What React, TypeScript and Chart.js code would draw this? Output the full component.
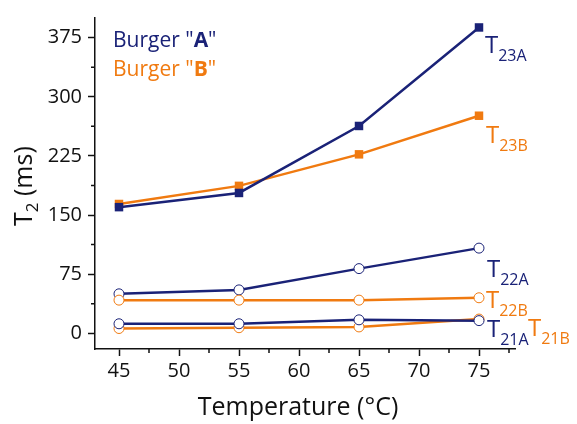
import { useEffect, useRef } from "react"
import { Chart, registerables } from "chart.js"

Chart.register(...registerables)

// temperatures (°C) on the x axis
const temperatures = [45, 55, 65, 75]

// T2 relaxation times (ms), burger A and B
const t23A = [160, 178, 263, 388]
const t23B = [164, 187, 227, 276]
const t22A = [50, 55, 82, 108]
const t22B = [42, 42, 42, 45]
const t21A = [12, 12, 17, 16]
const t21B = [6, 7, 8, 18]

const xTicks = [45, 50, 55, 60, 65, 70, 75]
const xMinorTicks = [47.5, 52.5, 57.5, 62.5, 67.5, 72.5, 77.5]
const yTicks = [0, 75, 150, 225, 300, 375]
const yMinorTicks = [37.5, 112.5, 187.5, 262.5, 337.5]

const NAVY = "#1a2277"
const ORANGE = "#f07a10"
const FONT = "'Open Sans', Lato, sans-serif"

type Run = { text: string; font: string; dy?: number }

const drawRuns = (ctx: CanvasRenderingContext2D, x: number, y: number, runs: Run[]) => {
  let cx = x
  runs.forEach((r) => {
    ctx.font = r.font
    ctx.fillText(r.text, cx, y + (r.dy || 0))
    cx += ctx.measureText(r.text).width
  })
}

// label offsets (px) from the last point of each series
const seriesLabels = [
  { sub: "23A", color: NAVY, dx: 6, dy: 26 },
  { sub: "23B", color: ORANGE, dx: 7, dy: 27 },
  { sub: "22A", color: NAVY, dx: 8, dy: 29 },
  { sub: "22B", color: ORANGE, dx: 7, dy: 10 },
  { sub: "21A", color: NAVY, dx: 8, dy: 16 },
  { sub: "21B", color: ORANGE, dx: 49, dy: 17 },
]

const decorPlugin = {
  id: "decor",
  afterDraw(chart: any) {
    const { ctx, chartArea, scales } = chart
    const x = scales.x
    const y = scales.y
    ctx.save()

    // minor ticks
    ctx.strokeStyle = "#111"
    ctx.lineWidth = 1.5
    ctx.beginPath()
    xMinorTicks.forEach((v) => {
      const px = x.getPixelForValue(v)
      ctx.moveTo(px, chartArea.bottom)
      ctx.lineTo(px, chartArea.bottom + 4)
    })
    yMinorTicks.forEach((v) => {
      const py = y.getPixelForValue(v)
      ctx.moveTo(chartArea.left, py)
      ctx.lineTo(chartArea.left - 4, py)
    })
    ctx.stroke()

    ctx.textBaseline = "alphabetic"
    ctx.textAlign = "left"

    // series labels
    const sets = [t23A, t23B, t22A, t22B, t21A, t21B]
    seriesLabels.forEach((l, i) => {
      const vals = sets[i]
      const px = x.getPixelForValue(temperatures[temperatures.length - 1])
      const py = y.getPixelForValue(vals[vals.length - 1])
      ctx.fillStyle = l.color
      drawRuns(ctx, px + l.dx, py + l.dy, [
        { text: "T", font: `24px ${FONT}` },
        { text: l.sub, font: `16px ${FONT}`, dy: 8 },
      ])
    })

    // legend
    ctx.fillStyle = NAVY
    drawRuns(ctx, 113, 47, [
      { text: 'Burger "', font: `21px ${FONT}` },
      { text: "A", font: `bold 21px ${FONT}` },
      { text: '"', font: `21px ${FONT}` },
    ])
    ctx.fillStyle = ORANGE
    drawRuns(ctx, 113, 76, [
      { text: 'Burger "', font: `21px ${FONT}` },
      { text: "B", font: `bold 21px ${FONT}` },
      { text: '"', font: `21px ${FONT}` },
    ])

    // axis titles
    ctx.fillStyle = "#111"
    ctx.font = `25px ${FONT}`
    ctx.textAlign = "center"
    ctx.fillText("Temperature (°C)", 298, 415)

    ctx.save()
    ctx.translate(32, 226)
    ctx.rotate(-Math.PI / 2)
    ctx.textAlign = "left"
    drawRuns(ctx, 0, 0, [
      { text: "T", font: `25px ${FONT}` },
      { text: "2", font: `17px ${FONT}`, dy: 6 },
      { text: " (ms)", font: `25px ${FONT}` },
    ])
    ctx.restore()

    ctx.restore()
  },
}

const lineSet = (data: number[], color: string, square: boolean) => ({
  data,
  borderColor: color,
  borderWidth: 2.5,
  backgroundColor: color,
  pointStyle: square ? "rect" : "circle",
  pointRadius: square ? 6 : 5,
  pointBackgroundColor: square ? color : "#fff",
  pointBorderColor: color,
  pointBorderWidth: square ? 0 : 1,
  clip: false as const,
})

const App = () => {
  const canvasRef = useRef<HTMLCanvasElement>(null)

  useEffect(() => {
    if (!canvasRef.current) return
    const chart = new Chart(canvasRef.current, {
      type: "line",
      data: {
        labels: temperatures,
        datasets: [
          lineSet(t21A, NAVY, false),
          lineSet(t21B, ORANGE, false),
          lineSet(t22B, ORANGE, false),
          lineSet(t22A, NAVY, false),
          lineSet(t23A, NAVY, true),
          lineSet(t23B, ORANGE, true),
        ].map((d) => ({ ...d, data: d.data.map((v, i) => ({ x: temperatures[i], y: v })) })),
      },
      options: {
        animation: false,
        responsive: true,
        maintainAspectRatio: false,
        layout: { padding: { top: 10, right: 62, left: 0, bottom: 0 } },
        plugins: { legend: { display: false }, tooltip: { enabled: false } },
        scales: {
          x: {
            type: "linear",
            min: 43,
            max: 78,
            afterBuildTicks: (s: any) => {
              s.ticks = xTicks.map((v) => ({ value: v }))
            },
            afterFit: (s: any) => {
              s.height = 75
            },
            border: { color: "#111", width: 1.5 },
            grid: { drawOnChartArea: false, tickLength: 7, tickColor: "#111", tickWidth: 1.5 },
            ticks: { color: "#111", padding: 3, font: { family: FONT, size: 20 } },
          },
          y: {
            type: "linear",
            min: -20,
            max: 400,
            afterBuildTicks: (s: any) => {
              s.ticks = yTicks.map((v) => ({ value: v }))
            },
            afterFit: (s: any) => {
              s.width = 95
            },
            border: { color: "#111", width: 1.5 },
            grid: { drawOnChartArea: false, tickLength: 7, tickColor: "#111", tickWidth: 1.5 },
            ticks: { color: "#111", padding: 6, font: { family: FONT, size: 20 } },
          },
        },
      },
      plugins: [decorPlugin],
    })
    return () => chart.destroy()
  }, [])

  return (
    <div style={{ position: "fixed", left: 0, top: 0, width: 577, height: 424, background: "#fff" }}>
      <canvas ref={canvasRef} />
    </div>
  )
}

export default App
